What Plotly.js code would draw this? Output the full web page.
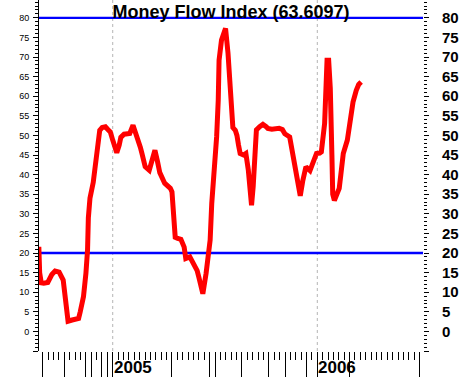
<!DOCTYPE html>
<html>
<head>
<meta charset="utf-8">
<script src="https://cdn.plot.ly/plotly-3.0.1.min.js"></script>
<style>
  html, body { margin: 0; padding: 0; background: #ffffff; }
  #chart { width: 461px; height: 377px; }
</style>
</head>
<body>
<div id="chart"></div>
<script>
// ---- data (x = trading days counted from the first session of 2005) ----
const days = [
  -91, -90, -88, -85, -80, -75, -71, -66, -61, -59, -57, -55, -50, -42, -40, -36, -33, -31, -30, -28,
  -24, -21, -17, -16, -13, -9, -6, -3, 0, 3, 5, 8, 10, 14, 18, 21, 25, 27, 30, 34,
  36, 40, 45, 48, 52, 55, 58, 64, 71, 73, 75, 77, 80, 84, 88, 90, 95, 100, 104, 106,
  109, 111, 115, 118, 120, 122, 124, 126, 128, 130, 131, 134, 137, 139, 142, 144, 147, 148, 151, 153,
  155, 157, 161, 164, 167, 169, 171, 173, 175, 177, 181, 185, 189, 191, 196, 200, 205, 209, 212, 218,
  222, 226, 229, 231, 234, 238, 243, 247, 251, 255, 257, 261, 263, 264, 266, 268, 270, 271, 273, 276,
  279, 281, 284, 289, 292, 296, 300, 303, 306
];
const mfi = [
  21.6, 15.0, 12.4, 12.3, 12.5, 14.5, 15.4, 15.1, 13.1, 9.7, 6.3, 2.6, 2.9, 3.3, 5.0, 8.9, 14.8, 20.8, 29.0, 34.0,
  38.0, 43.7, 49.0, 51.3, 52.0, 52.2, 51.5, 50.9, 48.8, 46.5, 45.6, 47.5, 49.5, 50.3, 50.4, 50.5, 52.6, 51.5, 50.0, 47.0,
  45.4, 42.0, 41.1, 43.7, 46.2, 43.5, 40.5, 37.8, 36.5, 35.6, 29.0, 24.0, 23.7, 23.5, 21.5, 18.6, 19.0, 17.3, 15.5, 13.9,
  11.5, 9.6, 14.8, 19.8, 23.3, 32.7, 38.0, 41.1, 49.6, 59.0, 69.2, 74.3, 76.8, 77.3, 71.0, 63.3, 52.5, 52.0, 51.3, 50.0,
  47.5, 45.4, 45.0, 45.4, 41.2, 36.0, 32.2, 36.9, 44.0, 51.4, 52.2, 52.8, 52.2, 51.8, 51.6, 51.8, 51.8, 51.5, 50.4, 49.6,
  44.5, 39.4, 35.5, 34.6, 38.3, 42.0, 41.0, 43.2, 45.4, 45.5, 45.8, 53.0, 60.7, 69.2, 69.2, 62.0, 45.0, 35.0, 33.4, 35.0,
  36.5, 40.0, 45.4, 48.8, 52.6, 58.5, 61.5, 63.0, 63.6097
];
const titleText = 'Money Flow Index (63.6097)';
const yearLabels = ['2005', '2006'];
const yearStarts = [0, 252];          // trading-day position of each year start
const levels = [0, 5, 10, 15, 20, 25, 30, 35, 40, 45, 50, 55, 60, 65, 70, 75, 80];
const bands = [80, 20];                // overbought / oversold lines

// ---- axis decoration ----
const tickStep = 252 / 38;             // spacing of the small date ticks
const longTickIdx = [-13, -9, -5, -4, -2, -1, 0, 11, 18, 19, 24, 29, 32, 36, 38, 44, 57];
const longTicks = longTickIdx.map(k => k * tickStep);

const FONT = 'Liberation Sans, Arial, Helvetica, sans-serif';
const yTickVals = [-5].concat(levels);
const yTickTextL = [''].concat(levels.map(String));
const yTickTextR = [''].concat(levels.map(v => '<b>' + v + '</b>'));
const yRange = [-5.0, 84.54];

const traces = [
  {
    x: days, y: mfi, type: 'scatter', mode: 'lines',
    line: { color: '#ff0000', width: 5 },
    hoverinfo: 'skip', showlegend: false
  },
  {
    x: days, y: mfi, type: 'scatter', mode: 'lines', yaxis: 'y2',
    line: { color: 'rgba(0,0,0,0)', width: 0 },
    hoverinfo: 'skip', showlegend: false
  }
];

const shapes = [];
yearStarts.forEach(d => shapes.push({
  type: 'line', xref: 'x', yref: 'paper', x0: d, x1: d, y0: 0, y1: 1,
  line: { color: '#b4b4b4', width: 1, dash: '3px,3px' }, layer: 'below'
}));
bands.forEach(v => shapes.push({
  type: 'line', xref: 'paper', yref: 'y', x0: 0, x1: 1, y0: v, y1: v,
  line: { color: '#0000ff', width: 2.3 }, layer: 'below'
}));

const annotations = yearLabels.map((t, i) => ({
  text: '<b>' + t + '</b>', x: yearStarts[i], xref: 'x', y: -0.047, yref: 'paper',
  xanchor: 'left', yanchor: 'middle', showarrow: false,
  font: { family: FONT, size: 17, color: '#000000' }, borderpad: 0
}));

const layout = {
  width: 461, height: 377,
  margin: { l: 39, r: 38, t: 0, b: 26, pad: 0, autoexpand: false },
  paper_bgcolor: '#ffffff', plot_bgcolor: '#ffffff',
  showlegend: false,
  font: { family: FONT, color: '#000000' },
  title: {
    text: '<b>' + titleText + '</b>',
    font: { family: FONT, size: 18, color: '#000000' },
    x: 0.5, xref: 'paper', xanchor: 'center',
    y: 0.968, yref: 'container', yanchor: 'middle'
  },
  xaxis: {
    range: [-90.8, 382.2], showgrid: false, zeroline: false, showline: false,
    tickmode: 'array', tickvals: longTicks, ticks: 'outside', ticklen: 26,
    tickcolor: '#000000', tickwidth: 1, showticklabels: false,
    minor: { tickmode: 'linear', tick0: 0, dtick: tickStep, ticks: 'outside', ticklen: 8,
             tickcolor: '#000000', tickwidth: 1, showgrid: false },
    fixedrange: true
  },
  yaxis: {
    range: yRange, showgrid: false, zeroline: false,
    showline: true, linecolor: '#000000', linewidth: 1,
    tickmode: 'array', tickvals: yTickVals, ticktext: yTickTextL,
    ticks: 'outside', ticklen: 5, tickcolor: '#000000', tickwidth: 1,
    tickfont: { family: FONT, size: 9, color: '#000000' }, ticklabelstandoff: 2,
    minor: { tickmode: 'linear', tick0: 0, dtick: 1, ticks: 'outside', ticklen: 3,
             tickcolor: '#000000', tickwidth: 1, showgrid: false },
    fixedrange: true
  },
  yaxis2: {
    overlaying: 'y', side: 'right', anchor: 'x',
    range: yRange, showgrid: false, zeroline: false, showline: false,
    tickmode: 'array', tickvals: yTickVals, ticktext: yTickTextR,
    ticks: 'outside', ticklen: 5, tickcolor: '#000000', tickwidth: 1,
    tickfont: { family: FONT, size: 15, color: '#000000' }, ticklabelstandoff: 10,
    minor: { tickmode: 'linear', tick0: 0, dtick: 1, ticks: 'outside', ticklen: 3,
             tickcolor: '#000000', tickwidth: 1, showgrid: false },
    fixedrange: true
  },
  shapes: shapes,
  annotations: annotations
};

Plotly.newPlot('chart', traces, layout, { staticPlot: true, displayModeBar: false });
</script>
</body>
</html>
